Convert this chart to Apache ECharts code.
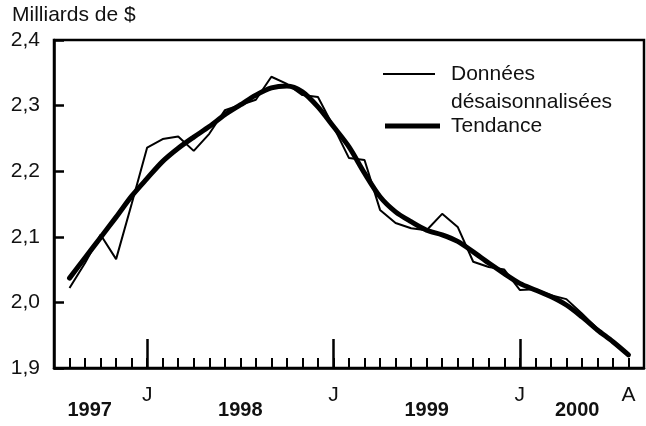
<!DOCTYPE html>
<html>
<head>
<meta charset="utf-8">
<script src="https://cdn.jsdelivr.net/npm/echarts@6/dist/echarts.min.js"></script>
<style>
  html, body { margin: 0; padding: 0; background: #fff; }
  #chart { width: 646px; height: 426px; }
</style>
</head>
<body>
<div id="chart"></div>
<script>
// mois, d'août 1997 à août 2000
const months = [
  '1997-08', '1997-09', '1997-10', '1997-11', '1997-12',
  '1998-01', '1998-02', '1998-03', '1998-04', '1998-05', '1998-06',
  '1998-07', '1998-08', '1998-09', '1998-10', '1998-11', '1998-12',
  '1999-01', '1999-02', '1999-03', '1999-04', '1999-05', '1999-06',
  '1999-07', '1999-08', '1999-09', '1999-10', '1999-11', '1999-12',
  '2000-01', '2000-02', '2000-03', '2000-04', '2000-05', '2000-06',
  '2000-07', '2000-08'
];

// données désaisonnalisées (milliards de $)
const seasAdj = [
  2.022, 2.060, 2.103, 2.066, 2.150,
  2.236, 2.249, 2.253, 2.231, 2.257, 2.293,
  2.301, 2.309, 2.344, 2.333, 2.316, 2.313,
  2.268, 2.220, 2.217, 2.141, 2.121, 2.113,
  2.110, 2.135, 2.115, 2.062, 2.054, 2.050,
  2.019, 2.020, 2.011, 2.005, 1.983, 1.960,
  1.938, 1.920
];

// tendance
const trend = [
  2.037, 2.068, 2.099, 2.130, 2.162,
  2.189, 2.215, 2.235, 2.252, 2.268, 2.286,
  2.301, 2.316, 2.327, 2.330, 2.321, 2.298,
  2.268, 2.237, 2.197, 2.161, 2.138, 2.123,
  2.110, 2.103, 2.093, 2.077, 2.060, 2.044,
  2.029, 2.019, 2.009, 1.996, 1.978, 1.958,
  1.940, 1.920
];

// étiquettes de l'axe des x
const monthLabelMonths = ['1998-01', '1999-01', '2000-01', '2000-08'];
const monthLabels = ['J', 'J', 'J', 'A'];
const januaryMonths = ['1998-01', '1999-01', '2000-01'];
const yearLabels = ['1997', '1998', '1999', '2000'];
const yearLabelPos = [1.3, 11, 23, 32.7]; // en mois depuis août 1997

const font = "'Liberation Sans', Arial, sans-serif";
const ink = '#111';

const idx = m => months.indexOf(m);
const monthTicks = months.map((m, i) => i);
const monthLabelAt = monthLabelMonths.map(idx);
const januaryAt = januaryMonths.map(idx);

const chart = echarts.init(document.getElementById('chart'), null, { renderer: 'canvas' });

chart.setOption({
  animation: false,
  backgroundColor: '#fff',
  title: {
    text: 'Milliards de $',
    left: 7,
    top: 0,
    textStyle: { fontFamily: font, fontSize: 21, fontWeight: 'normal', color: ink }
  },
  legend: [{
    data: ['Données désaisonnalisées'],
    left: 383,
    top: 32,
    padding: 0,
    icon: 'rect',
    itemWidth: 52,
    itemHeight: 2,
    selectedMode: false,
    itemStyle: { color: '#000' },
    // ligne vide en tête pour aligner « Données » sur le trait
    formatter: () => '\nDonnées\ndésaisonnalisées',
    textStyle: {
      fontFamily: font, fontSize: 21, color: ink,
      lineHeight: 28, padding: [0, 0, 0, 11]
    }
  }, {
    data: ['Tendance'],
    left: 385,
    top: 112,
    padding: 0,
    icon: 'rect',
    itemWidth: 55,
    itemHeight: 5,
    selectedMode: false,
    itemStyle: { color: '#000' },
    textStyle: {
      fontFamily: font, fontSize: 21, color: ink,
      lineHeight: 28, padding: [0, 0, 0, 6]
    }
  }],
  grid: {
    left: 54,
    right: 2,
    top: 40,
    bottom: 58,
    show: true,
    borderColor: '#000',
    borderWidth: 2.5
  },
  xAxis: [{
    type: 'value',
    min: -1,
    max: 37,
    splitLine: { show: false },
    axisLine: { onZero: false, lineStyle: { color: '#000', width: 2.5 } },
    axisTick: {
      inside: true,
      length: 10,
      customValues: monthTicks,
      lineStyle: { color: '#000', width: 2 }
    },
    axisLabel: {
      customValues: monthLabelAt,
      margin: 17,
      fontFamily: font,
      fontSize: 21,
      color: ink,
      formatter: v => monthLabels[monthLabelAt.indexOf(v)] || ''
    }
  }, {
    type: 'value',
    min: -1,
    max: 37,
    position: 'bottom',
    splitLine: { show: false },
    axisLine: { show: false, onZero: false },
    axisTick: {
      inside: true,
      length: 29,
      customValues: januaryAt,
      lineStyle: { color: '#000', width: 2.5 }
    },
    axisLabel: {
      customValues: yearLabelPos,
      margin: 32,
      fontFamily: font,
      fontSize: 20,
      fontWeight: 'bold',
      color: ink,
      formatter: v => yearLabels[yearLabelPos.indexOf(v)] || ''
    }
  }],
  yAxis: {
    type: 'value',
    min: 1.9,
    max: 2.4,
    interval: 0.1,
    splitLine: { show: false },
    axisLine: { onZero: false, lineStyle: { color: '#000', width: 2.5 } },
    axisTick: { inside: true, length: 10, lineStyle: { color: '#000', width: 2.5 } },
    axisLabel: {
      margin: 14,
      fontFamily: font,
      fontSize: 21,
      color: ink,
      formatter: v => v.toFixed(1).replace('.', ',')
    }
  },
  series: [{
    name: 'Données désaisonnalisées',
    type: 'line',
    data: seasAdj.map((v, i) => [i, v]),
    symbol: 'none',
    lineStyle: { color: '#000', width: 2 },
    itemStyle: { color: '#000' },
    z: 3
  }, {
    name: 'Tendance',
    type: 'line',
    data: trend.map((v, i) => [i, v]),
    smooth: 0.3,
    symbol: 'none',
    lineStyle: { color: '#000', width: 5, cap: 'round', join: 'round' },
    itemStyle: { color: '#000' },
    z: 2
  }]
});
</script>
</body>
</html>
